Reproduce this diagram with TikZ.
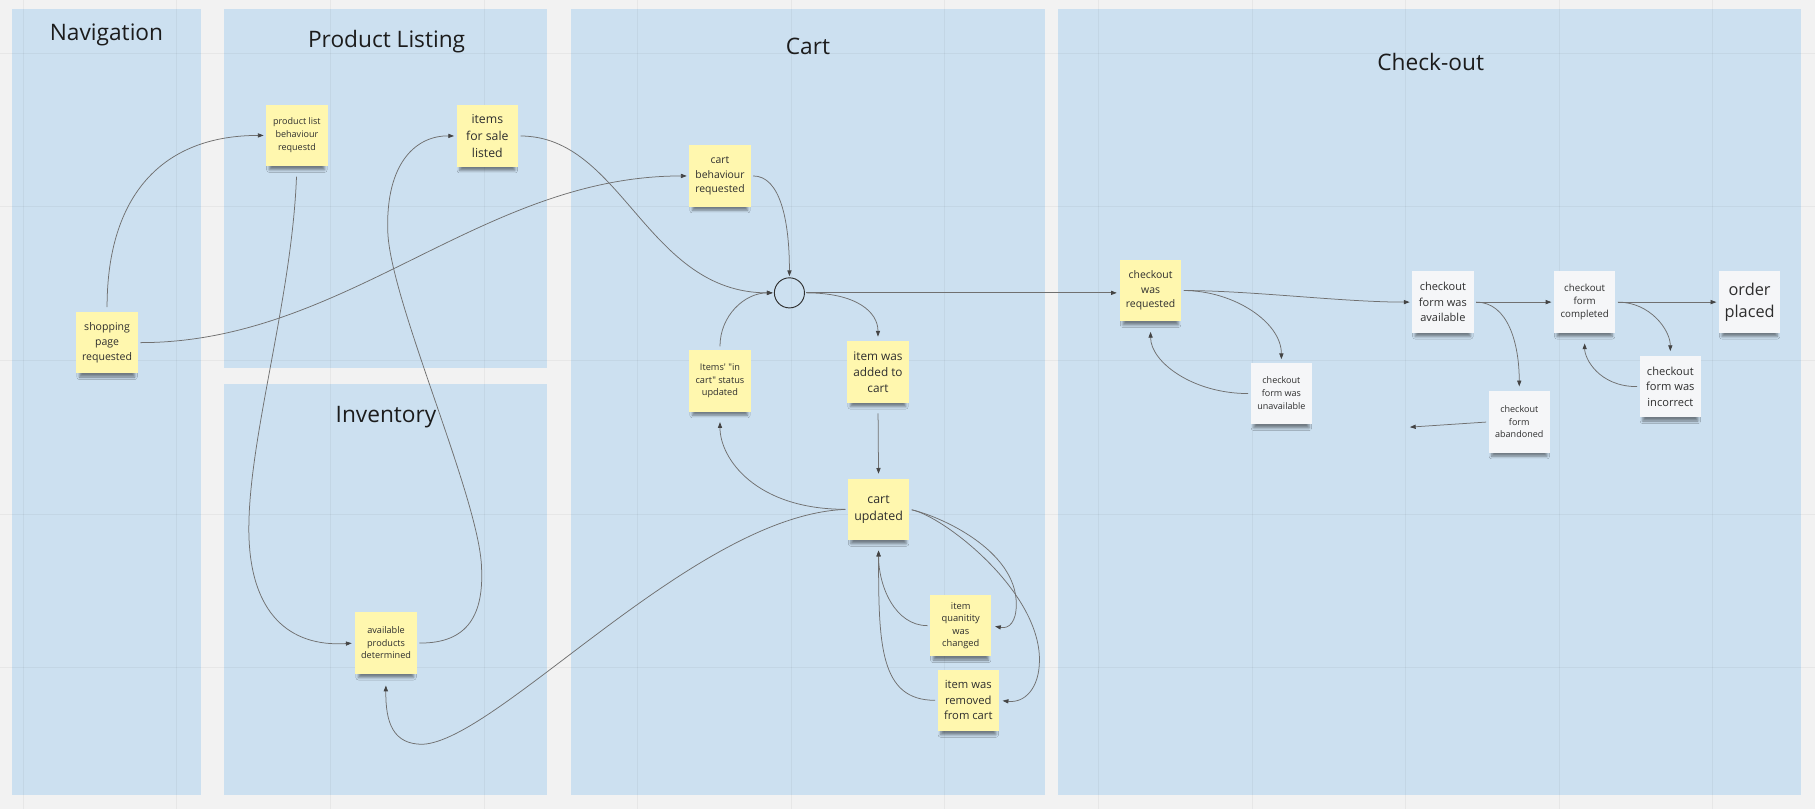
\documentclass[tikz,border=0pt]{standalone}
\usepackage{fontspec}
\setmainfont{Open Sans}
\newfontfamily\plainOS{Open Sans}[Ligatures=TeXOff]
\usetikzlibrary{arrows.meta,calc,shadows.blur}
\definecolor{bg}{HTML}{F2F2F2}
\definecolor{panel}{HTML}{CCE0F0}
\definecolor{sticky}{HTML}{FFF7AE}
\definecolor{paper}{HTML}{F5F6F8}
\definecolor{linec}{HTML}{707070}
\definecolor{tipc}{HTML}{444444}
\definecolor{ink}{HTML}{2E2E2E}
\definecolor{titleink}{HTML}{1C1C1C}
\newcommand{\fsz}[2]{\fontsize{#1}{#2}\selectfont}
\begin{document}
\begin{tikzpicture}[x=1pt,y=-1pt,
  lane/.style={fill=panel, draw=none},
  gridline/.style={draw=black, draw opacity=0.045, line width=0.7pt},
  lanetitle/.style={anchor=base, text=titleink, font=\fsz{19.6}{24}},
  note/.style={rectangle, fill=sticky, minimum width=53pt, minimum height=53pt,
    inner sep=0pt, align=center, text=ink,
    blur shadow={shadow xshift=0pt, shadow yshift=-6.5pt, shadow scale=0.9,
      shadow opacity=45, shadow blur radius=2.5pt}},
  wnote/.style={note, fill=paper},
  junction/.style={circle, draw=ink, line width=0.8pt, minimum size=26pt, inner sep=0pt},
  flow/.style={draw=linec, line width=0.65pt,
    -{Triangle[length=5pt,width=3.6pt,color=tipc]},
    shorten <=2pt, shorten >=2pt}
]
\useasboundingbox (0,0) rectangle (1568,699);
\fill[bg] (0,0) rectangle (1568,699);
% swimlanes
\fill[lane] (10.4,8) rectangle (173.6,686.8);
\fill[lane] (193.8,8) rectangle (472.8,317.6);
\fill[lane] (193.8,331.8) rectangle (472.8,686.8);
\fill[lane] (493.3,8) rectangle (902.8,686.8);
\fill[lane] (914.3,8) rectangle (1555.5,686.8);
% grid
\foreach \gx in {0,...,11} \draw[gridline] ({20+132.7*\gx},0) -- ++(0,699);
\foreach \gy in {0,...,4} \draw[gridline] (0,{46+132.7*\gy}) -- ++(1568,0);
% lane titles
\node[lanetitle] (tnav) at (92,34.6) {Navigation};
\node[lanetitle] (tpl) at (334,41) {Product Listing};
\node[lanetitle] (tinv) at (333.5,365) {Inventory};
\node[lanetitle] (tcart) at (698,46.7) {Cart};
\node[lanetitle] (tco) at (1236,60.5) {Check-out};
% notes
\node[note, font=\fsz{9.1}{12.7}] (sp) at (92.5,296) {shopping\\page\\requested};
\node[note, font=\fsz{7.8}{11.2}] (plr) at (256.5,117) {product list\\behaviour\\requestd};
\node[note, font=\fsz{10.6}{14.5}] (items) at (421,117.5) {items\\for sale\\listed};
\node[note, font=\fsz{7.9}{10.8}] (apd) at (333.5,555.5) {available\\products\\determined};
\node[note, font=\fsz{9.0}{12.4}] (cbr) at (622,152) {cart\\behaviour\\requested};
\node[junction] (jn) at (682,253) {};
\node[note, font=\plainOS\fsz{7.95}{11.1}] (iicsu) at (622,329) {Items' "in\\cart" status\\updated};
\node[note, font=\fsz{10.2}{13.8}] (iwatc) at (758.5,321.5) {item was\\added to\\cart};
\node[note, font=\fsz{10.7}{14.4}] (cu) at (759,440) {cart\\updated};
\node[note, font=\fsz{8.05}{10.9}] (iqwc) at (830,540.5) {item\\quanitity\\was\\changed};
\node[note, font=\fsz{9.7}{13.4}] (iwrfc) at (836.5,605) {item was\\removed\\from cart};
\node[note, font=\fsz{9.0}{12.4}] (cwr) at (994,251) {checkout\\was\\requested};
\node[wnote, font=\fsz{7.8}{11.2}] (cfwu) at (1107,340) {checkout\\form was\\unavailable};
\node[wnote, font=\fsz{9.5}{13.2}] (cfwa) at (1246.5,261) {checkout\\form was\\available};
\node[wnote, font=\fsz{7.8}{10.8}] (cfab) at (1312.5,364.5) {checkout\\form\\abandoned};
\node[wnote, font=\fsz{8.4}{11.5}] (cfc) at (1369,261) {checkout\\form\\completed};
\node[wnote, font=\fsz{9.6}{13.4}] (cfwi) at (1443,334) {checkout\\form was\\incorrect};
\node[wnote, font=\fsz{14.1}{19.6}] (op) at (1511.5,261) {order\\placed};
\coordinate (abandonEnd) at (1218,369);
% connectors
\draw[flow, shorten <=4pt] (sp.north) .. controls +(0,-100) and +(-90,0) .. (plr.west);
\draw[flow] (sp.east) .. controls +(180,0) and +(-180,0) .. (cbr.west);
\draw[flow, shorten <=9pt, shorten >=3pt] (plr.south) .. controls (252,260) and (214,380) .. (215,460) .. controls (216,530) and (250,559) .. (apd.west);
\draw[flow] (apd.east) .. controls (405,556) and (418,530) .. (416,490) .. controls (414,430) and (337,260) .. (335,200) .. controls (333,140) and (360,117) .. (items.west);
\draw[flow, shorten >=1pt] (items.east) .. controls +(90,0) and +(-110,0) .. (jn.west);
\draw[flow, shorten >=1pt] (cbr.east) .. controls +(25,0) and +(0,-50) .. (jn.north);
\draw[flow, shorten <=3pt, shorten >=1pt] (iicsu.north) .. controls +(0,-30) and +(-25,0) .. (jn.west);
\draw[flow, shorten <=1pt, shorten >=4pt] (jn.east) .. controls +(45,0) and +(0,-25) .. (iwatc.north);
\draw[flow, shorten <=1pt, shorten >=2.5pt] (jn.east) -- (jn.east -| cwr.west);
\draw[flow, shorten <=9pt, shorten >=4pt] (iwatc.south) -- (cu.north);
\draw[flow, shorten >=9pt] (cu.west) .. controls +(-80,0) and +(0,40) .. (iicsu.south);
\draw[flow, shorten >=10pt] (cu.west) .. controls (600,445) and (430,640) .. (365,643) .. controls (340,643) and (333,625) .. (apd.south);
\draw[flow, shorten >=3pt] (cu.east) .. controls (812,446) and (878,475) .. (878,522) .. controls (878,537) and (872,543.5) .. (iqwc.east);
\draw[flow, shorten >=3pt] (cu.east) .. controls (815,446) and (898,510) .. (898,570) .. controls (898,595) and (885,607.5) .. (iwrfc.east);
\draw[flow, shorten >=9pt] (iqwc.west) .. controls +(-30,0) and +(0,40) .. (cu.south);
\draw[flow, shorten >=9pt] (iwrfc.west) .. controls +(-50,0) and +(0,90) .. (cu.south);
\draw[flow] (cwr.east) .. controls +(60,0) and +(-60,0) .. (cfwa.west);
\draw[flow, shorten >=3pt] (cwr.east) .. controls +(45,0) and +(0,-35) .. (cfwu.north);
\draw[flow, shorten >=9pt] (cfwu.west) .. controls +(-50,0) and +(0,35) .. (cwr.south);
\draw[flow] (cfwa.east) -- (cfc.west);
\draw[flow, shorten >=4pt] (cfwa.east) .. controls +(30,0) and +(0,-40) .. (cfab.north);
\draw[flow, shorten >=0pt] (cfab.west) -- (abandonEnd);
\draw[flow] (cfc.east) -- (op.west);
\draw[flow, shorten >=4pt] (cfc.east) .. controls +(30,0) and +(0,-22) .. (cfwi.north);
\draw[flow, shorten >=9pt] (cfwi.west) .. controls +(-35,0) and +(0,22) .. (cfc.south);
\end{tikzpicture}
\end{document}
